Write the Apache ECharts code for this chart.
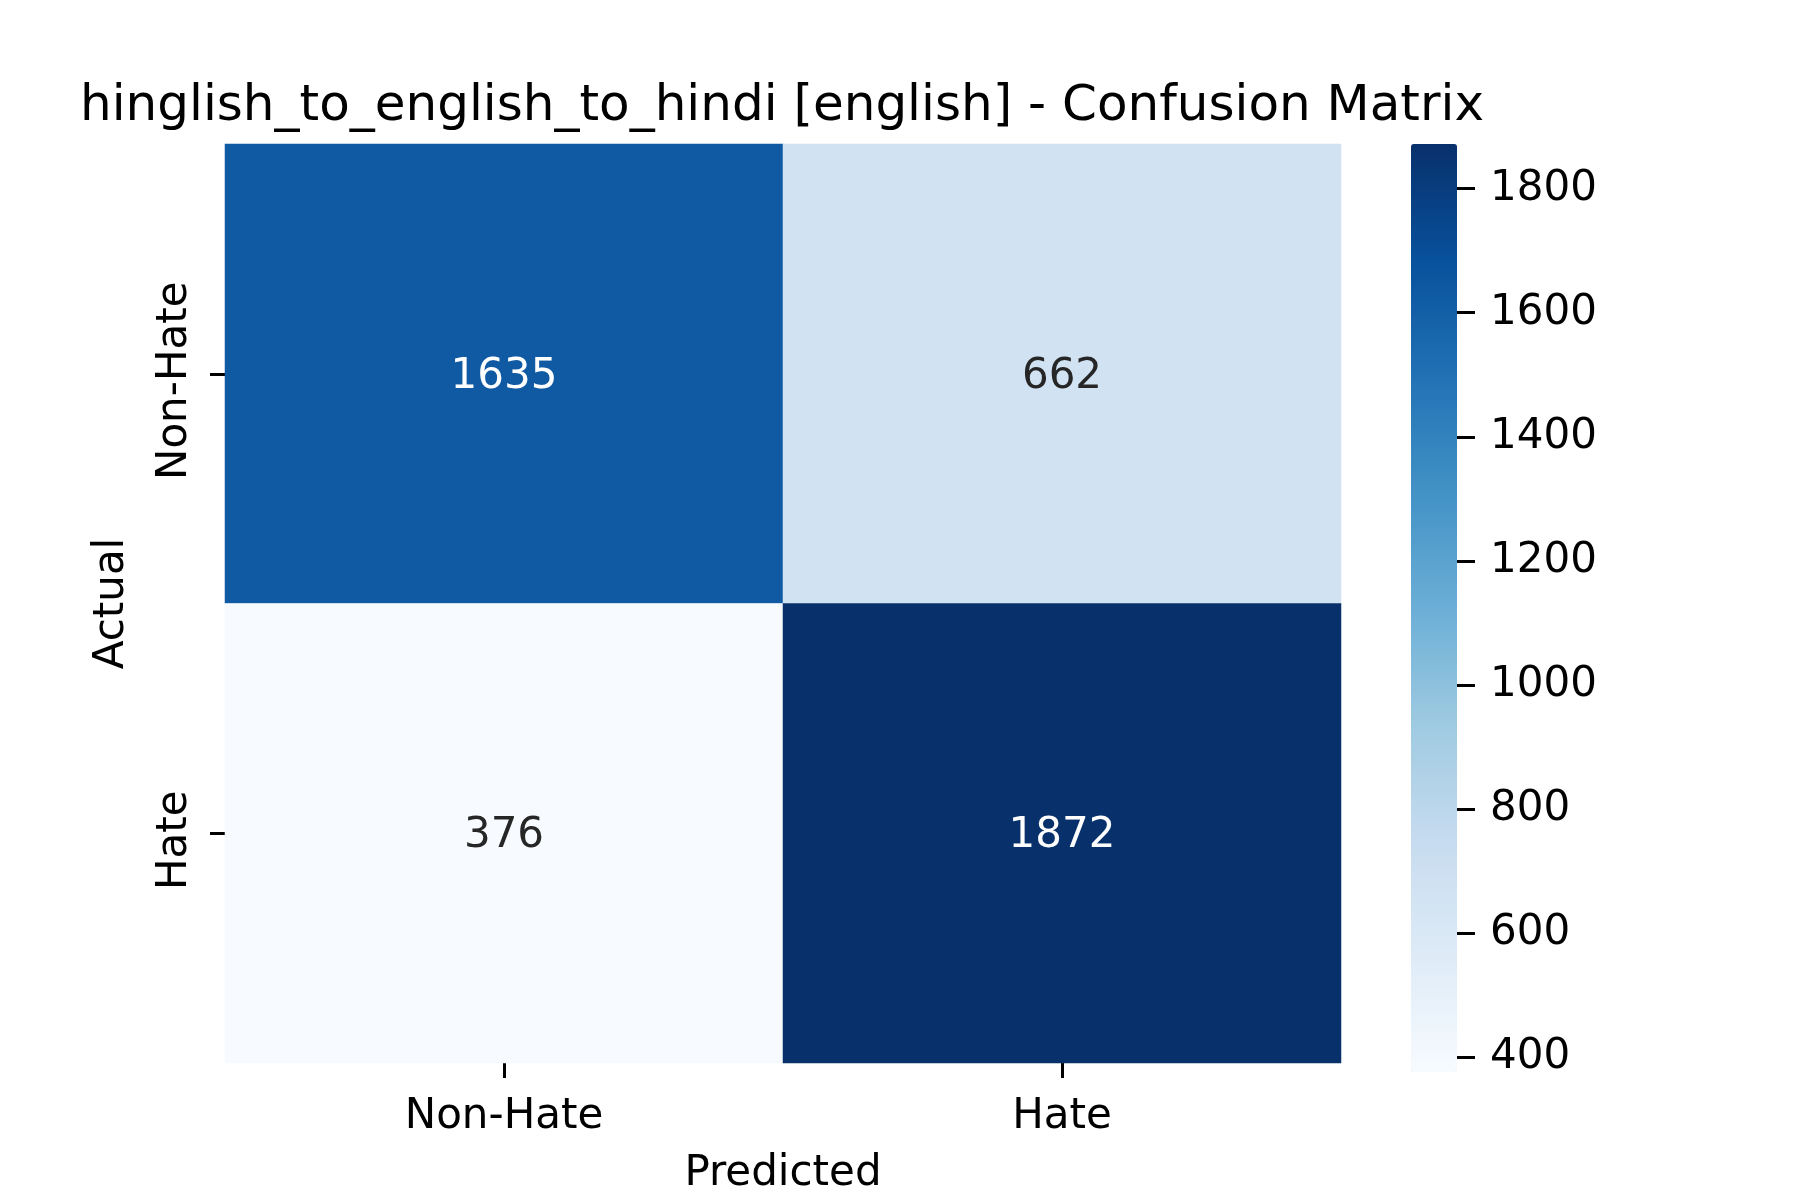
<!DOCTYPE html>
<html>
<head>
<meta charset="utf-8">
<script src="https://cdn.jsdelivr.net/npm/echarts@6/dist/echarts.min.js"></script>
<style>
  html, body { margin: 0; padding: 0; background: #fff; }
  #panel { width: 1800px; height: 1200px; }
</style>
</head>
<body>
<div id="panel"></div>
<script>
var categories = ['Non-Hate', 'Hate'];
var actualRows = [1635, 662];     // Actual = Non-Hate : predicted Non-Hate, Hate
var actualRows2 = [376, 1872];    // Actual = Hate
var colorbarTicks = [400, 600, 800, 1000, 1200, 1400, 1600, 1800];
var blues = ['#f7fbff', '#deebf7', '#c6dbef', '#9ecae1', '#6baed6',
             '#4292c6', '#2171b5', '#08519c', '#08306b'];

var matrix = [actualRows, actualRows2];
var flat = actualRows.concat(actualRows2);
var vmin = Math.min.apply(null, flat);
var vmax = Math.max.apply(null, flat);

var cells = [];
matrix.forEach(function (row, r) {
    row.forEach(function (v, c) {
        var t = (v - vmin) / (vmax - vmin);
        cells.push({
            value: [c, r, v],
            label: { color: t > 0.5 ? '#ffffff' : '#262626' }
        });
    });
});

var font = 'DejaVu Sans';
var myChart = echarts.init(document.getElementById('panel'));
myChart.setOption({
    backgroundColor: '#ffffff',
    animation: false,
    title: {
        text: 'hinglish_to_english_to_hindi [english] - Confusion Matrix',
        left: 782,
        textAlign: 'center',
        top: 82,
        padding: 0,
        textStyle: { fontFamily: font, fontSize: 50, fontWeight: 'normal', color: '#000' }
    },
    grid: [
        { left: 225, top: 144, width: 1116, height: 928 },
        { left: 1411, top: 144, width: 46, height: 928 }
    ],
    xAxis: [{
        type: 'category',
        gridIndex: 0,
        data: categories,
        name: 'Predicted',
        nameLocation: 'middle',
        nameGap: 90,
        nameTextStyle: { fontFamily: font, fontSize: 42, color: '#000' },
        axisLine: { show: false },
        axisTick: { show: true, alignWithLabel: true, length: 15, lineStyle: { color: '#000', width: 3 } },
        axisLabel: { fontFamily: font, fontSize: 42, color: '#000', margin: 33, interval: 0 },
        splitLine: { show: false }
    }, {
        type: 'value',
        gridIndex: 1,
        show: false
    }],
    yAxis: [{
        type: 'category',
        gridIndex: 0,
        data: categories,
        inverse: true,
        name: 'Actual',
        nameLocation: 'middle',
        nameGap: 92,
        nameTextStyle: { fontFamily: font, fontSize: 42, color: '#000' },
        axisLine: { show: false },
        axisTick: { show: true, alignWithLabel: true, length: 15, lineStyle: { color: '#000', width: 3 } },
        axisLabel: { fontFamily: font, fontSize: 42, color: '#000', margin: 29, rotate: 90, interval: 0, padding: [0, 14, 0, 0] },
        splitLine: { show: false }
    }, {
        type: 'value',
        gridIndex: 1,
        position: 'right',
        min: vmin,
        max: vmax,
        axisLine: { show: false, onZero: false },
        axisTick: { show: true, inside: false, length: 18, customValues: colorbarTicks, lineStyle: { color: '#000', width: 3 } },
        axisLabel: {
            fontFamily: font, fontSize: 42, color: '#000', margin: 33, customValues: colorbarTicks,
            formatter: function (v) { return String(v); }
        },
        splitLine: { show: false }
    }],
    visualMap: {
        type: 'continuous',
        min: vmin,
        max: vmax,
        seriesIndex: 0,
        dimension: 2,
        calculable: false,
        hoverLink: false,
        left: 1411,
        top: 144,
        padding: 0,
        itemWidth: 46,
        itemHeight: 928,
        text: null,
        showLabel: false,
        inRange: { color: blues }
    },
    series: [{
        type: 'heatmap',
        xAxisIndex: 0,
        yAxisIndex: 0,
        data: cells,
        itemStyle: { borderWidth: 0 },
        label: {
            show: true, fontFamily: font, fontSize: 42, offset: [0, 3],
            formatter: function (p) { return p.value[2]; }
        },
        emphasis: { disabled: true }
    }]
});
</script>
</body>
</html>
